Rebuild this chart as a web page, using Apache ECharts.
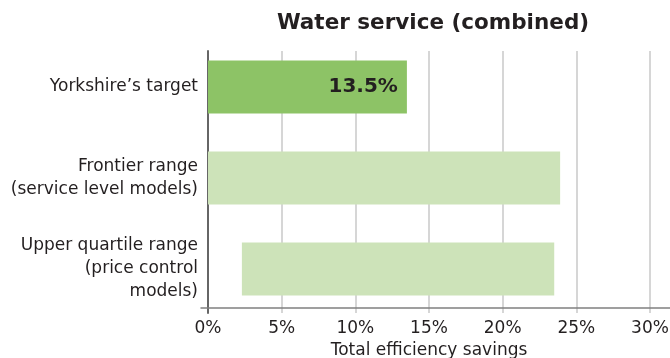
<!DOCTYPE html>
<html><head><meta charset="utf-8">
<script src="https://cdn.jsdelivr.net/npm/echarts@6/dist/echarts.min.js"></script>
<style>html,body{margin:0;padding:0;background:#fff}#c{width:670px;height:358px}</style>
</head><body><div id="c"></div>
<script>
const categories = ["Yorkshire’s target", "Frontier range\n(service level models)", "Upper quartile range\n(price control\nmodels)"];
const rangeLow = [0, 0, 2.3];
const rangeHigh = [13.5, 23.9, 23.5];
const barColors = ["#8dc366", "#cde3b9", "#cde3b9"];
const valueLabels = ["13.5%", "", ""];
const xTicks = [0, 5, 10, 15, 20, 25, 30];

const FONT = "DejaVu Sans";
const TXT = '#231f20';
const xMin = xTicks[0], xMax = xTicks[xTicks.length - 1];
const chart = echarts.init(document.getElementById('c'));
chart.setOption({
  animation: false,
  textStyle: { fontFamily: FONT },
  title: {
    text: "Water service (combined)",
    left: 428, top: 7, textAlign: 'center',
    textStyle: { fontFamily: FONT, fontWeight: 'bold', fontSize: 21.5, color: TXT }
  },
  grid: [
    { left: 208, right: 20, top: 41.5, bottom: 43.5, containLabel: false, outerBoundsMode: 'none' },
    { left: 208, right: 20, top: 51, bottom: 45, containLabel: false, outerBoundsMode: 'none' },
    { left: 201, right: 0, top: 51, bottom: 45, containLabel: false, outerBoundsMode: 'none' }
  ],
  xAxis: [
    { gridIndex: 0, type: 'value', min: xMin, max: xMax, interval: 5, show: false },
    {
      gridIndex: 1, type: 'value', min: xMin, max: xMax, interval: 5, offset: -5,
      name: "Total efficiency savings", nameLocation: 'middle', nameGap: 34,
      nameTextStyle: { fontFamily: FONT, fontSize: 17, color: TXT },
      axisLine: { show: false },
      axisTick: { show: false },
      axisLabel: { formatter: v => v + '%', fontFamily: FONT, fontSize: 17, color: TXT, margin: 12 },
      splitLine: { show: true, lineStyle: { color: '#c8c8c8', width: 1.5 } }
    },
    {
      gridIndex: 2, type: 'value', min: 0, max: 1, offset: -5,
      axisLine: { show: true, onZero: false, lineStyle: { color: '#808080', width: 1.5 } },
      axisTick: { show: false }, axisLabel: { show: false }, splitLine: { show: false }
    }
  ],
  yAxis: [
    {
      gridIndex: 0, type: 'category', data: categories, inverse: true,
      axisLine: { show: false }, axisTick: { show: false }, splitLine: { show: false },
      axisLabel: { fontFamily: FONT, fontSize: 17, color: TXT, lineHeight: 23, margin: 10, align: 'right' }
    },
    {
      gridIndex: 1, type: 'category', data: [''],
      axisLine: { show: true, lineStyle: { color: '#666', width: 2 } },
      axisTick: { show: false }, axisLabel: { show: false }, splitLine: { show: false }
    },
    { gridIndex: 2, type: 'category', data: [''], show: false }
  ],
  series: [
    {
      type: 'bar', stack: 'r', silent: true, xAxisIndex: 0, yAxisIndex: 0,
      data: rangeLow,
      itemStyle: { color: 'transparent' },
      barCategoryGap: '42%'
    },
    {
      type: 'bar', stack: 'r', xAxisIndex: 0, yAxisIndex: 0,
      data: rangeHigh.map((h, i) => ({
        value: +(h - rangeLow[i]).toFixed(2),
        itemStyle: { color: barColors[i] },
        label: {
          show: valueLabels[i] !== '', position: 'insideRight', distance: 9,
          formatter: valueLabels[i], fontFamily: FONT, fontWeight: 'bold', fontSize: 20, color: TXT
        }
      })),
      barCategoryGap: '42%'
    }
  ]
});
</script></body></html>
